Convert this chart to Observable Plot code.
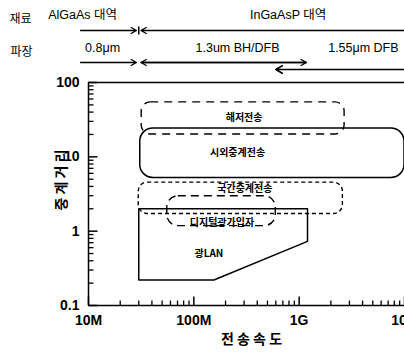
<!DOCTYPE html>
<html><head><meta charset="utf-8">
<script src="https://cdn.jsdelivr.net/npm/d3@7"></script>
<script src="https://cdn.jsdelivr.net/npm/@observablehq/plot@0.6"></script>
<style>body{margin:0;background:#fff}svg{display:block}</style>
</head><body><div id="chart"></div>
<script>
// ---- data ----
const regionNames = ["해저전송", "시외중계전송", "국간중계전송", "디지털광가입자"];
const rateMin = [3.2e7, 3.1e7, 3.0e7, 5.6e7];     // bit/s
const rateMax = [2.7e9, 1.0e10, 2.6e9, 6.0e8];
const distMin = [20, 5.2, 1.7, 1.17];             // km
const distMax = [54, 24, 4.5, 2.95];
const labelRate = [3.0e8, 2.6e8, 3.05e8, 1.85e8];
const labelDist = [33.7, 11.3, 3.7, 1.28];

const lanName = "광LAN";
const lanRate = [3.0e7, 1.2e9, 1.2e9, 1.55e8, 3.0e7, 3.0e7];
const lanDist = [2.0, 2.0, 0.73, 0.22, 0.22, 2.0];
const lanLabelRate = 1.39e8, lanLabelDist = 0.5;

const rateTicks = [1e7, 1e8, 1e9, 1e10];
const rateTickLabels = ["10M", "100M", "1G", "10G"];
const distTicks = [0.1, 1, 10, 100];
const distTickLabels = ["0.1", "1", "10", "100"];

// header annotations
const rowTitles = ["재료", "파장"];
const bandLabels = ["AlGaAs 대역", "InGaAsP 대역"];
const bandLabelRate = [8.8e6, 7.85e8];
const bandBoundary = 3.0e7;
const bandFrom = [8.4e6, 1e10];
const bandTo = [2.85e7, 3.15e7];
const waveLabels = ["0.8μm", "1.3um BH/DFB", "1.55μm DFB"];
const waveLabelRate = [1.36e7, 2.6e8, 4.07e9];
const waveFrom = [8.4e6, 3.15e7, 1.17e9];
const waveTo = [2.85e7, 1.17e9, 3.15e7];
const wave155From = [1e10];
const wave155To = [6.0e8];

const xTitle = "전 송 속 도";
const yTitle = "중 계 거 리";

// ---- layout ----
const W = 404, H = 354, ML = 88, MR = 0, MT = 82, MB = 49;
const xDomain = [1e7, 1e10], yDomain = [0.1, 100];
const xMin = xDomain[0], yMin = yDomain[0];
const topY = yDomain[1];
// same scales as the plot, used to express pixel tick lengths in data units
const xs = Plot.scale({x: {type: "log", domain: xDomain, range: [ML, W - MR]}});
const ys = Plot.scale({y: {type: "log", domain: yDomain, range: [H - MB, MT]}});

// ---- tables ----
const regions = regionNames.map((name, i) => ({
  name, x1: rateMin[i], x2: rateMax[i], y1: distMin[i], y2: distMax[i], lx: labelRate[i], ly: labelDist[i]
}));
const lan = lanRate.map((r, i) => ({x: r, y: lanDist[i]}));
const bandSeg = bandFrom.map((f, i) => ({x1: f, x2: bandTo[i]}));
const waveSeg = waveFrom.map((f, i) => ({x1: f, x2: waveTo[i]}));
const wave155Seg = wave155From.map((f, i) => ({x1: f, x2: wave155To[i]}));

const minorRate = d3.scaleLog().domain(xDomain).ticks().filter(v => !rateTicks.includes(v));
const minorDist = d3.scaleLog().domain(yDomain).ticks().filter(v => !distTicks.includes(v));

const KR = "'Noto Sans CJK KR', sans-serif";
const LAT = "'Liberation Sans', 'Noto Sans CJK KR', Arial, sans-serif";
const byName = n => regions.filter(d => d.name === n);
const rectOpts = (extra) => ({x1: "x1", x2: "x2", y1: "y1", y2: "y2", fill: "none", stroke: "black", ...extra});

// inward ticks as links
const xTicks = (vals, len, sw) => {
  const yEnd = ys.invert(ys.apply(yMin) - len);
  return Plot.link(vals, {x1: d => d, x2: d => d, y1: () => yMin, y2: () => yEnd, stroke: "black", strokeWidth: sw});
};
const yTicks = (vals, len, sw) => {
  const xEnd = xs.invert(xs.apply(xMin) + len);
  return Plot.link(vals, {y1: d => d, y2: d => d, x1: () => xMin, x2: () => xEnd, stroke: "black", strokeWidth: sw});
};
const boundaryBar = (vals, half, dy) => Plot.link(vals, {
  x1: d => d, x2: d => d,
  y1: () => ys.invert(ys.apply(topY) + half), y2: () => ys.invert(ys.apply(topY) - half),
  dy, stroke: "black", strokeWidth: 1.5
});

const chart = Plot.plot({
  width: W, height: H,
  marginTop: MT, marginBottom: MB, marginLeft: ML, marginRight: MR,
  x: {type: "log", domain: xDomain, axis: null},
  y: {type: "log", domain: yDomain, axis: null},
  style: {fontFamily: LAT, color: "black"},
  marks: [
    // frame (left, top, bottom)
    Plot.ruleX([xMin], {stroke: "black", strokeWidth: 1.5}),
    Plot.ruleY([yMin, topY], {stroke: "black", strokeWidth: 1.5}),
    // inward ticks
    xTicks(rateTicks, 9, 1.5),
    xTicks(minorRate, 5, 1.3),
    yTicks(distTicks, 9, 1.5),
    yTicks(minorDist, 5, 1.3),
    // tick labels
    Plot.axisX(rateTicks, {anchor: "bottom", tickSize: 0, tickPadding: 10, fontSize: 14, fontWeight: "bold",
      tickFormat: d => rateTickLabels[rateTicks.indexOf(d)]}),
    Plot.axisY(distTicks, {anchor: "left", tickSize: 0, tickPadding: 9, fontSize: 14, fontWeight: "bold",
      tickFormat: d => distTickLabels[distTicks.indexOf(d)]}),
    // axis titles
    Plot.text([xTitle], {frameAnchor: "bottom", dx: 5, dy: 38, fontFamily: KR, fontSize: 14, fontWeight: "bold"}),
    Plot.text([yTitle], {x: () => xMin, frameAnchor: "left", textAnchor: "middle", lineAnchor: "middle", dx: -27, dy: -14, rotate: -90, fontFamily: KR, fontSize: 14, fontWeight: "bold"}),
    // regions
    Plot.rect(byName("해저전송"), rectOpts({rx: 9, strokeWidth: 1.4, strokeDasharray: "8,6"})),
    Plot.rect(byName("시외중계전송"), rectOpts({rx: 13, strokeWidth: 1.5})),
    Plot.rect(byName("국간중계전송"), rectOpts({rx: 9, strokeWidth: 1.4, strokeDasharray: "4,3"})),
    Plot.rect(byName("디지털광가입자"), rectOpts({rx: 11, strokeWidth: 1.4, strokeDasharray: "8,5"})),
    Plot.line(lan, {x: "x", y: "y", stroke: "black", strokeWidth: 1.5}),
    Plot.text(regions, {x: "lx", y: "ly", text: "name", fontFamily: KR, fontSize: 10, fontWeight: "bold"}),
    Plot.text([lanName], {x: () => lanLabelRate, y: () => lanLabelDist, fontFamily: KR, fontSize: 10, fontWeight: "bold"}),
    // header: row titles
    Plot.text([rowTitles[0]], {frameAnchor: "top-left", textAnchor: "middle", dx: -68, dy: -68, fontFamily: KR, fontSize: 12}),
    Plot.text([rowTitles[1]], {frameAnchor: "top-left", textAnchor: "middle", dx: -67, dy: -35, fontFamily: KR, fontSize: 12}),
    // material band row
    Plot.text(bandLabels, {x: (d, i) => bandLabelRate[i], y: () => topY, dy: -68, fontSize: 12.5}),
    Plot.arrow(bandSeg, {x1: "x1", x2: "x2", y1: () => topY, y2: () => topY, dy: -52, headLength: 7, strokeWidth: 1.3, stroke: "black"}),
    boundaryBar([bandBoundary], 4, -52),
    // wavelength row
    Plot.text(waveLabels, {x: (d, i) => waveLabelRate[i], y: () => topY, dy: -35, fontSize: 12.5}),
    Plot.arrow(waveSeg, {x1: "x1", x2: "x2", y1: () => topY, y2: () => topY, dy: -20, headLength: 7, strokeWidth: 1.3, stroke: "black"}),
    Plot.arrow(wave155Seg, {x1: "x1", x2: "x2", y1: () => topY, y2: () => topY, dy: -13, headLength: 7, strokeWidth: 1.6, stroke: "black"})
  ]
});
document.getElementById("chart").appendChild(chart);
</script>
</body></html>
